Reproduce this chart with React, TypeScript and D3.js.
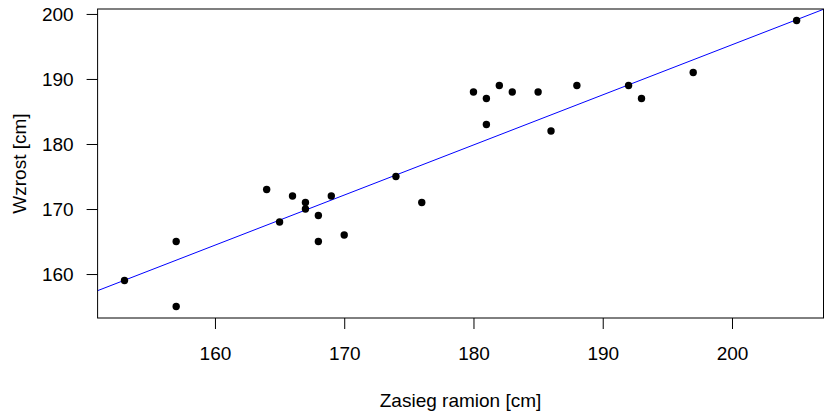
import React, { useEffect, useRef } from 'react';
import * as d3 from 'd3';

// zasieg ramion (x) i wzrost (y), w cm
const zasieg = [153, 157, 157, 164, 165, 166, 167, 167, 168, 168, 169, 170, 174, 176,
    180, 181, 181, 182, 183, 185, 186, 188, 192, 193, 197, 205];
const wzrost = [159, 165, 155, 173, 168, 172, 171, 170, 169, 165, 172, 166, 175, 171,
    188, 187, 183, 189, 188, 188, 182, 189, 189, 187, 191, 199];
// wspolczynniki prostej: wzrost = a + b * zasieg
const prostaA = 41.16;
const prostaB = 0.7705;
const xTicks = [160, 170, 180, 190, 200];
const yTicks = [160, 170, 180, 190, 200];
const xLabel = 'Zasieg ramion [cm]';
const yLabel = 'Wzrost [cm]';

// jak w R: zakres danych poszerzony o 4%
function pad(ext: [number, number]): [number, number] {
    const d = (ext[1] - ext[0]) * 0.04;
    return [ext[0] - d, ext[1] + d];
}

export default function App() {
    const ref = useRef<SVGSVGElement>(null);

    useEffect(() => {
        const width = 824, height = 413;
        const left = 97.6, right = 823.5, top = 9, bottom = 318;
        const fs = 19;
        const svg = d3.select(ref.current);
        svg.selectAll('*').remove();

        const x = d3.scaleLinear().domain(pad(d3.extent(zasieg) as [number, number])).range([left, right]);
        const y = d3.scaleLinear().domain(pad(d3.extent(wzrost) as [number, number])).range([bottom, top]);
        const font = 'Liberation Sans, Arial, Helvetica, sans-serif';

        // prosta, przycieta do obszaru wykresu
        svg.append('clipPath').attr('id', 'plotclip')
            .append('rect').attr('x', left).attr('y', top).attr('width', right - left).attr('height', bottom - top);
        const [x0, x1] = x.domain();
        svg.append('line')
            .attr('clip-path', 'url(#plotclip)')
            .attr('x1', x(x0)).attr('y1', y(prostaA + prostaB * x0))
            .attr('x2', x(x1)).attr('y2', y(prostaA + prostaB * x1))
            .attr('stroke', '#0000ff').attr('stroke-width', 1);

        // punkty
        svg.selectAll('circle.pt')
            .data(zasieg.map((v, i) => [v, wzrost[i]]))
            .enter()
            .append('circle')
            .attr('class', 'pt')
            .attr('cx', d => x(d[0]))
            .attr('cy', d => y(d[1]))
            .attr('r', 3.7)
            .attr('fill', '#000');

        // ramka
        svg.append('rect')
            .attr('x', left).attr('y', top)
            .attr('width', right - left).attr('height', bottom - top)
            .attr('fill', 'none').attr('stroke', '#000').attr('stroke-width', 1);

        // os X
        const xAxis = svg.append('g').attr('transform', `translate(0,${bottom})`)
            .call(d3.axisBottom(x).tickValues(xTicks).tickSize(11).tickPadding(18).tickSizeOuter(0));
        xAxis.select('.domain').remove();
        xAxis.selectAll('text').attr('font-size', fs).attr('font-family', font).attr('fill', '#000');

        // os Y
        const yAxis = svg.append('g').attr('transform', `translate(${left},0)`)
            .call(d3.axisLeft(y).tickValues(yTicks).tickSize(11).tickPadding(13).tickSizeOuter(0));
        yAxis.select('.domain').remove();
        yAxis.selectAll('text').attr('font-size', fs).attr('font-family', font).attr('fill', '#000');

        svg.append('text')
            .attr('x', (left + right) / 2).attr('y', 407)
            .attr('text-anchor', 'middle')
            .attr('font-size', fs).attr('font-family', font)
            .text(xLabel);
        svg.append('text')
            .attr('transform', `translate(26,${(top + bottom) / 2}) rotate(-90)`)
            .attr('text-anchor', 'middle')
            .attr('font-size', fs).attr('font-family', font)
            .text(yLabel);

        svg.attr('width', width).attr('height', height);
    }, []);

    return (
        <svg ref={ref} width={824} height={413}
            style={{ position: 'absolute', left: 0, top: 0, background: '#fff' }} />
    );
}
